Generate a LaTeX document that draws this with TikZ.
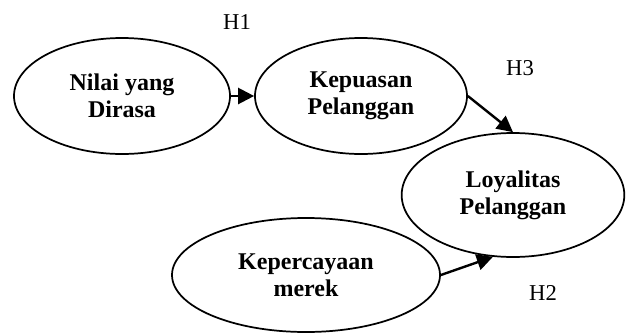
\documentclass[tikz,border=0pt]{standalone}
\usepackage{fontspec}
\setmainfont{Liberation Serif}
\usetikzlibrary{shapes.geometric,arrows.meta}

\begin{document}
\begin{tikzpicture}[x = 0.75pt, y = -0.75pt,
	var/.style = {draw, ellipse, line width = 1.3pt, inner sep = 0pt, align = center,
		font = \fontsize{18}{20.5}\selectfont\bfseries},
	hyp/.style = {font = \fontsize{17}{20}\selectfont},
	link/.style = {line width = 1.8pt, -{Triangle[length = 12pt, width = 12pt]}}]
	\clip (0,0) rectangle (626,333);
	\useasboundingbox (0,0) rectangle (626,333);
	\node [var, minimum width = 162pt, minimum height = 87pt] (nilai) at (122,96) {Nilai yang\\Dirasa};
	\node [var, minimum width = 159pt, minimum height = 87pt] (puas) at (361,96) {Kepuasan\\Pelanggan};
	\node [var, minimum width = 167pt, minimum height = 93pt] (loyal) at (513,195) {Loyalitas\\Pelanggan};
	\node [var, minimum width = 201pt, minimum height = 85.5pt] (percaya) at (306,275) {Kepercayaan\\merek};
	\node [hyp] (h1) at (237,22) {H1};
	\node [hyp] (h3) at (520,68) {H3};
	\node [hyp] (h2) at (543,293) {H2};
	\draw [link] (nilai.east) -- (puas.west);
	\draw [link] (puas.east) -- (loyal.north);
	\draw [link] (percaya.east) -- (loyal.252);
\end{tikzpicture}
\end{document}
